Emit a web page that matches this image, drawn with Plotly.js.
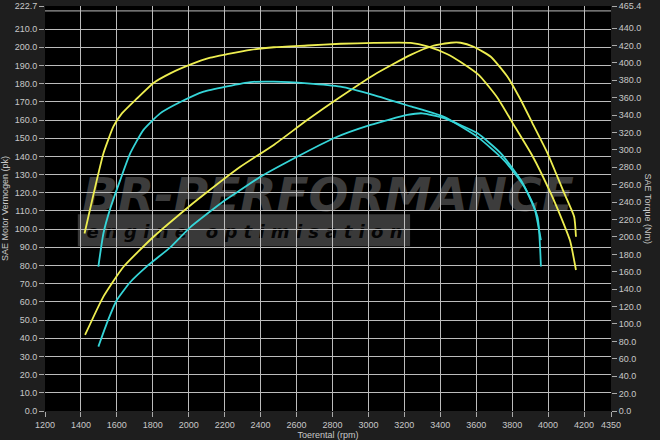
<!DOCTYPE html>
<html>
<head>
<meta charset="utf-8">
<script src="https://cdn.plot.ly/plotly-3.0.1.min.js"></script>
<style>
html,body{margin:0;padding:0;background:#1e1e1e;}
#chart{width:660px;height:440px;}
</style>
</head>
<body>
<div id="chart"></div>
<script>
// ---- data ----
// Tuned (yellow) torque, right axis (Nm)
const tunedTorqueRpm = [1420,1441,1488,1525,1581,1628,1711,1804,1897,2008,2120,2213,2343,2473,2659,2845,3030,3235,3328,3440,3513,3615,3718,3811,3913,4015,4071,4123,4155];
const tunedTorqueNm  = [204,223,265,296,327,342,359,377,388,398,406,410,415,418,420,422,423,423,419,410,401,386,360,328,293,250,223,195,162];
// Tuned (yellow) power, left axis (pk)
const tunedPowerRpm = [1423,1525,1637,1804,1990,2046,2287,2473,2659,2845,3030,3235,3356,3458,3513,3586,3681,3774,3848,3913,3997,4090,4145,4155];
const tunedPowerPk  = [41.8,62.9,79.3,95.8,111.5,116,134.3,146.3,160,172.8,184.8,195.8,200.7,202.5,202.5,200.3,194.8,183.8,171,158.2,141.7,119.7,106.8,95.8];
// Stock (cyan) torque, right axis (Nm)
const stockTorqueRpm = [1497,1525,1562,1618,1674,1748,1841,1953,2083,2213,2343,2473,2659,2845,3030,3235,3421,3607,3755,3867,3941,3960];
const stockTorqueNm  = [166,204,232,265,296,323,342,355,367,373,378,378.5,376.6,372.7,363,350,338,315,288,258,223,166];
// Stock (cyan) power, left axis (pk)
const stockPowerRpm = [1497,1544,1600,1674,1767,1897,2008,2203,2287,2399,2603,2807,3012,3216,3300,3421,3607,3737,3848,3922,3960];
const stockPowerPk  = [35.4,48.2,61,70.8,79.5,90,101,116,121.5,128.8,139.8,150,157.3,162.8,163.7,161,152.7,141.7,127,112.3,94];

// ---- ticks ----
const xTicks = [1200,1400,1600,1800,2000,2200,2400,2600,2800,3000,3200,3400,3600,3800,4000,4200,4350];
const leftTicks = [0,10,20,30,40,50,60,70,80,90,100,110,120,130,140,150,160,170,180,190,200,210,222.7];
const rightTicks = [0,20,40,60,80,100,120,140,160,180,200,220,240,260,280,300,320,340,360,380,400,420,440,465.4];
const leftMax = 222.7, rightMax = 465.4, xMin = 1200, xMax = 4350;

const YEL = '#eeee50', CYN = '#35d5d8';
const lineStyle = (c) => ({color:c, width:1.8, shape:'spline', smoothing:0.5});

const traces = [
  {x:tunedTorqueRpm, y:tunedTorqueNm, yaxis:'y2', type:'scatter', mode:'lines', line:lineStyle(YEL), name:'Tuned torque'},
  {x:tunedPowerRpm, y:tunedPowerPk, type:'scatter', mode:'lines', line:lineStyle(YEL), name:'Tuned power'},
  {x:stockTorqueRpm, y:stockTorqueNm, yaxis:'y2', type:'scatter', mode:'lines', line:lineStyle(CYN), name:'Stock torque'},
  {x:stockPowerRpm, y:stockPowerPk, type:'scatter', mode:'lines', line:lineStyle(CYN), name:'Stock power'}
];

const tickFont = {family:'Liberation Sans, Arial, sans-serif', size:9, color:'#c8c8c8'};
const gridCol = '#bcbcbc';

const layout = {
  width:660, height:440,
  paper_bgcolor:'#1e1e1e', plot_bgcolor:'#000000',
  margin:{l:45, r:49, t:6, b:29, pad:0},
  showlegend:false,
  font:tickFont,
  xaxis:{
    range:[xMin,xMax], tickvals:xTicks, ticktext:xTicks.map(String),
    showgrid:true, gridcolor:gridCol, gridwidth:1, zeroline:false, showline:false,
    ticks:'outside', ticklen:5, tickcolor:'#aaaaaa', tickfont:tickFont,
    title:{text:'Toerental (rpm)', font:tickFont, standoff:2}
  },
  yaxis:{
    range:[0,leftMax], tickvals:leftTicks, ticktext:leftTicks.map(v=>v.toFixed(1)),
    showgrid:true, gridcolor:gridCol, gridwidth:1, zeroline:false, showline:false,
    ticks:'outside', ticklen:5, tickcolor:'#aaaaaa', tickfont:tickFont,
    title:{text:'SAE Motor Vermogen (pk)', font:tickFont, standoff:4}
  },
  yaxis2:{
    range:[0,rightMax], overlaying:'y', side:'right',
    tickvals:rightTicks, ticktext:rightTicks.map(v=>v.toFixed(1)),
    showgrid:false, zeroline:false, showline:false,
    ticks:'outside', ticklen:5, tickcolor:'#aaaaaa', tickfont:tickFont
  },
  shapes:[
    {type:'line', xref:'paper', x0:0, x1:1, yref:'y', y0:220, y1:220, layer:'below', line:{color:gridCol, width:1}},
    {type:'rect', xref:'paper', yref:'paper', x0:0.058, x1:0.645, y0:0.407, y1:0.486, layer:'below',
     fillcolor:'#393939', line:{width:0}},
    {type:'rect', xref:'paper', yref:'paper', x0:0.07, x1:0.635, y0:0.407, y1:0.486, layer:'below',
     fillcolor:'rgba(0,0,0,0)', line:{width:0},
     label:{text:'<b><i>e n g i n e   o p t i m i s a t i o n</i></b>', textposition:'middle center',
            font:{family:'DejaVu Sans, sans-serif', size:18, color:'#050505'}}},
    {type:'rect', xref:'paper', yref:'paper', x0:0.06, x1:0.94, y0:0.495, y1:0.59, layer:'below',
     fillcolor:'rgba(0,0,0,0)', line:{width:0},
     label:{text:'<b><i>BR-PERFORMANCE</i></b>', textposition:'middle center',
            font:{family:'DejaVu Sans, sans-serif', size:47, color:'#3c3c3c'}}}
  ],
  annotations:[
    {text:'SAE Torque (Nm)', xref:'paper', yref:'paper', x:1.067, y:0.5, textangle:90,
     showarrow:false, font:tickFont, xanchor:'center', yanchor:'middle'}
  ]
};

Plotly.newPlot('chart', traces, layout, {displayModeBar:false, staticPlot:true});
</script>
</body>
</html>
